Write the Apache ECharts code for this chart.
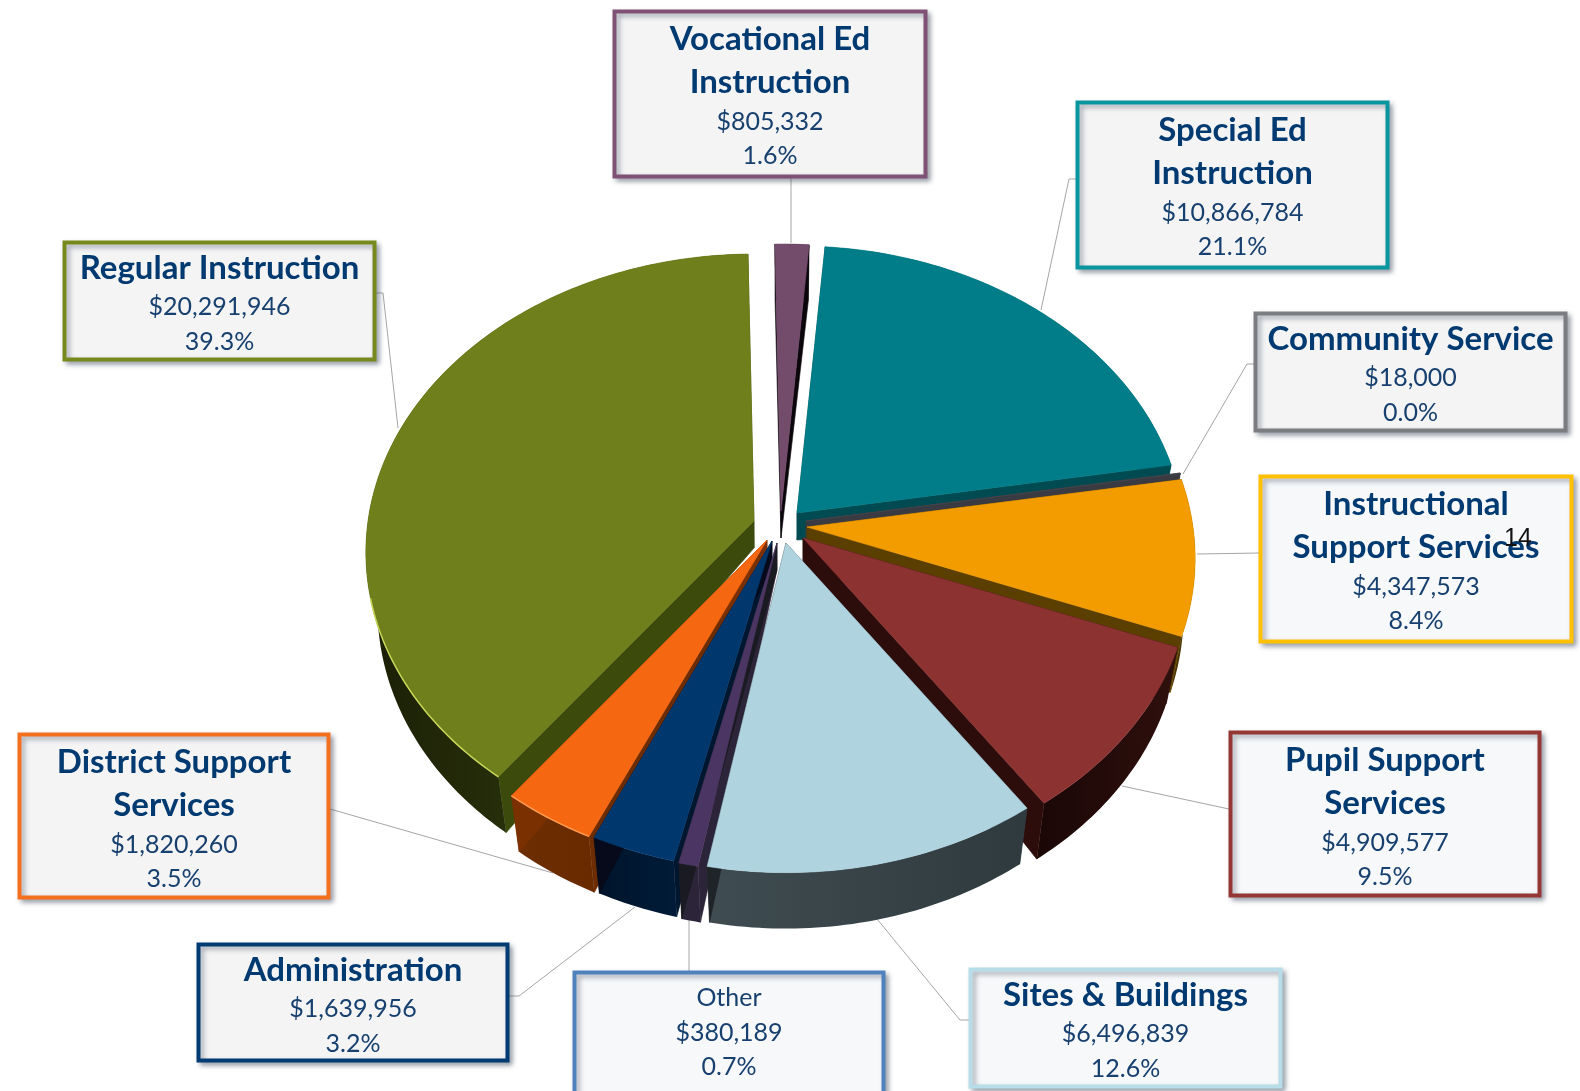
<!DOCTYPE html>
<html><head><meta charset="utf-8">
<style>html,body{margin:0;padding:0;background:#fff}#c{width:1580px;height:1091px}</style>
<script src="https://cdn.jsdelivr.net/npm/echarts@6/dist/echarts.min.js"></script>
</head><body><div id="c"></div>
<script>
// ---- data (clockwise from 12 o'clock) ----
const categories = ['Vocational Ed Instruction','Special Ed Instruction','Community Service','Instructional Support Services','Pupil Support Services','Sites & Buildings','Other','Administration','District Support Services','Regular Instruction'];
const titleLines = [['Vocational Ed','Instruction'],['Special Ed','Instruction'],['Community Service'],['Instructional','Support Services'],['Pupil Support','Services'],['Sites & Buildings'],['Other'],['Administration'],['District Support','Services'],['Regular Instruction']];
const values = [805332,10866784,18000,4347573,4909577,6496839,380189,1639956,1820260,20291946];

// ---- styling ----
const topColors  = ['#734C6B','#007D88','#45454E','#F29C00','#8C3332','#B0D4DF','#4B3562','#00386E','#F56710','#6E7F1B'];
const cutStart   = ['#0B060C','#004A51','#3A3A42','#5A3F00','#2C0D0B','#35414A','#2C2438','#00172F','#6E2C02','#3C4A0B'];
const cutEnd     = ['#0B060C','#004A51','#3A3A42','#5A3F00','#2C0D0B','#1F2429','#1A1A22','#060A1A','#7A3000','#3C4A0B'];
const wallFrom   = ['#0B060C','#004A51','#333333','#4A3400','#1A0706','#3F4C51','#2C2438','#00142B','#6E2E04','#1B2006'];
const wallTo     = ['#0B060C','#004A51','#333333','#4A3400','#2F100D','#2F3A3E','#2C2438','#001B38','#6A2A00','#3A4510'];
const apexX = [781,797,806,807,803,786,777,772,767,754];
const apexY = [511,513,521,527,538,543,543,541,540,521];
const drawOrder = [0,1,9,2,3,4,8,7,6,5];
const startDeg = -1, persp = 0.105, gy = 295, fx = 386, depthA = 27, depthB = 29, taper = 0.03;

const boxX = [613,1076,1254,1259,1229,969,573,197,18,63];
const boxY = [10,101,312,475,731,968,971,943,733,241];
const boxW = [314,313,313,314,312,313,312,312,312,313];
const boxH = [168,168,120,168,166,120,130,119,166,120];
const boxBorder = ['#7F5275','#0A969F','#7B7D80','#FFC000','#953735','#B7DDE8','#4F81BD','#003B73','#F4701F','#77881C'];
const boxFill = ['#F4F4F5','#F4F4F5','#F4F4F5','#F7F8FA','#F7F8FA','#F7F8FA','#F7F8FA','#F4F4F5','#F4F4F5','#F4F4F5'];
const leaders = [
 [[791,178],[791,243]],
 [[1076,179],[1069,179],[1041,310]],
 [[1254,364],[1247,364],[1183,474]],
 [[1260,553],[1197,554]],
 [[1229,809],[1122,786]],
 [[969,1020],[960,1020],[877,919]],
 [[689,972],[689,917]],
 [[509,996],[519,996],[635,907]],
 [[330,809],[553,873]],
 [[376,293],[383,293],[398,428]]
];

const total = values.reduce((a,b)=>a+b,0);
const startAngles = [];
values.reduce((acc,v,i)=>{startAngles[i]=acc;return acc+v/total*360;},startDeg);

function rimPoint(i,deg){
  const t=deg*Math.PI/180, X=Math.sin(t), Z=Math.cos(t), d=1+persp*Z;
  return [fx*X/d, -gy*Z/d];
}
function renderSlice(params,api){
  const i=api.value(1), a0=startAngles[i], sweep=api.value(0)/total*360;
  const ax=apexX[i], ay=apexY[i];
  const n=Math.max(2,Math.ceil(sweep));
  const rim=[];
  for(let k=0;k<=n;k++) rim.push(rimPoint(i,a0+sweep*k/n));
  const top=rim.map(p=>[ax+p[0],ay+p[1]]);
  const bot=rim.map(p=>[ax+p[0]*(1-taper),ay+p[1]+depthA+depthB]);
  const A=[ax,ay], B=[ax,ay+depthA];
  const poly=(pts,fill,extra)=>({type:'polygon',shape:{points:pts},style:Object.assign({fill:fill,stroke:fill,lineWidth:0.6},extra||{})});
  const wallFill=new echarts.graphic.LinearGradient(0,0,1,0,[{offset:0,color:wallFrom[i]},{offset:1,color:wallTo[i]}]);
  const children=[
    poly([A,top[0],bot[0],B],cutStart[i]),
    poly(top.concat(bot.slice().reverse()),wallFill,{stroke:null,lineWidth:0}),
    poly([A,top[n],bot[n],B],cutEnd[i]),
    poly([A].concat(top),topColors[i])
  ];
  if(i===9||i===8){
    const hl=top.filter((p,k)=>i===8||k<=n*0.27);
    children.push({type:'polyline',shape:{points:hl},style:{fill:null,stroke:i===9?'#C8D65A':'#FF9A50',lineWidth:1.5}});
  }
  return {type:'group',children:children};
}
function renderLeader(params,api){
  return {type:'polyline',shape:{points:leaders[api.value(0)]},style:{fill:null,stroke:'#A6A6A6',lineWidth:1}};
}
function fmtMoney(v){return '$'+v.toLocaleString('en-US');}
function renderBox(params,api){
  const i=api.value(0), x=boxX[i], y=boxY[i], w=boxW[i], h=boxH[i], cx=x+w/2;
  const children=[{type:'rect',shape:{x:x+1.5,y:y+1.5,width:w-3,height:h-3},style:{fill:boxFill[i],stroke:boxBorder[i],lineWidth:4,
    shadowBlur:5,shadowOffsetX:3,shadowOffsetY:3,shadowColor:'rgba(60,70,90,0.45)'}}];
  const isOther=categories[i]==='Other', two=titleLines[i].length>1;
  let yy=y+(isOther?27:(two?29.5:27));
  const txt=(s,bold,ypos)=>({type:'text',style:{text:s,x:cx,y:ypos,align:'center',verticalAlign:'middle',
      font:(bold?'bold 33px':'25px')+' Lato, "Open Sans", sans-serif',fill:bold?'#003A70':'#17406F'}});
  titleLines[i].forEach((s,k)=>{children.push(txt(s,!isOther,yy));if(k<titleLines[i].length-1)yy+=43;});
  yy+=isOther?34.5:39;
  children.push(txt(fmtMoney(values[i]),false,yy));
  yy+=34.5;
  children.push(txt((values[i]/total*100).toFixed(1)+'%',false,yy));
  return {type:'group',children:children};
}
const chart=echarts.init(document.getElementById('c'),null,{renderer:'canvas'});
chart.setOption({
  animation:false,
  backgroundColor:'#ffffff',
  series:[
    {type:'custom',name:'leaders',coordinateSystem:'none',silent:true,clip:false,z:1,renderItem:renderLeader,
     data:leaders.map((l,k)=>[k])},
    {type:'custom',name:'Budget',coordinateSystem:'none',silent:true,clip:false,z:2,renderItem:renderSlice,
     data:drawOrder.map(i=>({name:categories[i],value:[values[i],i]}))},
    {type:'custom',name:'labels',coordinateSystem:'none',silent:true,clip:false,z:3,renderItem:renderBox,
     data:categories.map((c,k)=>({name:c,value:[k]}))}
  ],
  graphic:[{type:'text',z:10,style:{text:'14',x:1518,y:539,align:'center',verticalAlign:'middle',font:'25px "Liberation Sans", Arial, sans-serif',fill:'#111'}}]
});
</script></body></html>
